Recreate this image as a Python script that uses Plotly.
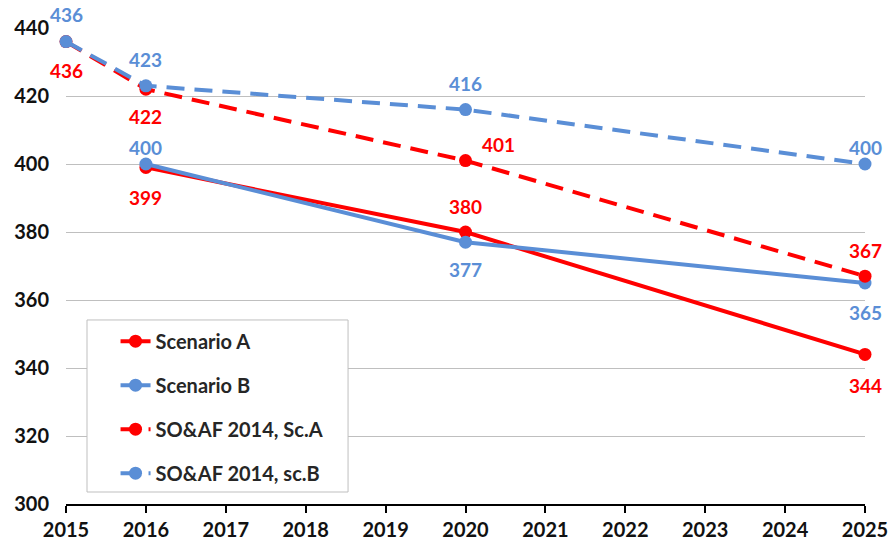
import plotly.graph_objects as go

years_new = [2016, 2020, 2025]
years_old = [2015, 2016, 2020, 2025]
scenario_a = [399, 380, 344]
scenario_b = [400, 377, 365]
soaf_a = [436, 422, 401, 367]
soaf_b = [436, 423, 416, 400]
names = ["Scenario A", "Scenario B", "SO&AF 2014, Sc.A", "SO&AF 2014, sc.B"]
x_ticks = list(range(2015, 2026))
y_ticks = list(range(300, 441, 20))

RED = "#FF0000"
BLUE = "#5A8ED6"
FONT = "Lato"

# label offsets (xshift, yshift) in px
off_a = [(0, -30), (0, 26), (0, -31)]
off_b = [(0, 17), (0, -27), (0, -29)]
off_oa = [(0, -29), (0, -27), (33, 16), (0, 26)]
off_ob = [(0, 27), (0, 26), (0, 26), (0, 17)]

fig = go.Figure()
series = [
    (years_new, scenario_a, RED, "solid", off_a),
    (years_new, scenario_b, BLUE, "solid", off_b),
    (years_old, soaf_a, RED, "18px,10px", off_oa),
    (years_old, soaf_b, BLUE, "18px,10px", off_ob),
]
annotations = []
for i, (xs, ys, col, dash, offs) in enumerate(series):
    fig.add_trace(go.Scatter(
        x=xs, y=ys, name=names[i], mode="lines+markers",
        line=dict(color=col, width=4, dash=dash),
        marker=dict(color=col, size=13),
        cliponaxis=False, legendgroup=f"g{i}",
    ))
    for x, y, (dx, dy) in zip(xs, ys, offs):
        annotations.append(dict(
            x=x, y=y, text=str(y), showarrow=False, xshift=dx, yshift=dy,
            font=dict(family=FONT, size=19, color=col, weight="bold"),
            xref="x", yref="y",
        ))

# legend frame
fig.add_shape(type="rect", xref="paper", yref="paper",
              x0=0.0263, x1=0.353, y0=0.0252, y1=0.3866,
              fillcolor="white", line=dict(color="#BFBFBF", width=1),
              layer="above")

fig.update_layout(
    width=894, height=549,
    margin=dict(l=66, r=29, t=28, b=45),
    paper_bgcolor="white", plot_bgcolor="white",
    annotations=annotations,
    showlegend=True,
    legend=dict(
        x=0.062, y=0.383, xanchor="left", yanchor="top",
        bgcolor="rgba(0,0,0,0)", borderwidth=0,
        font=dict(family=FONT, size=20, color="#262626", weight="bold"),
        tracegroupgap=15,
    ),
    xaxis=dict(
        range=[2015, 2025], tickvals=x_ticks, showgrid=False,
        showline=True, linecolor="black", linewidth=2,
        ticks="outside", ticklen=7, tickwidth=2, tickcolor="black",
        tickfont=dict(family=FONT, size=20, color="#111111", weight="bold"),
        zeroline=False, automargin=False,
    ),
    yaxis=dict(
        range=[300, 440], tickvals=y_ticks, showgrid=True,
        gridcolor="#BFBFBF", gridwidth=1, zeroline=False, showline=False,
        ticklabelstandoff=16, automargin=False,
        tickfont=dict(family=FONT, size=20, color="#111111", weight="bold"),
    ),
)

fig.write_html("out.html", config={"displayModeBar": False},
               post_script="document.body.style.margin='0';")
